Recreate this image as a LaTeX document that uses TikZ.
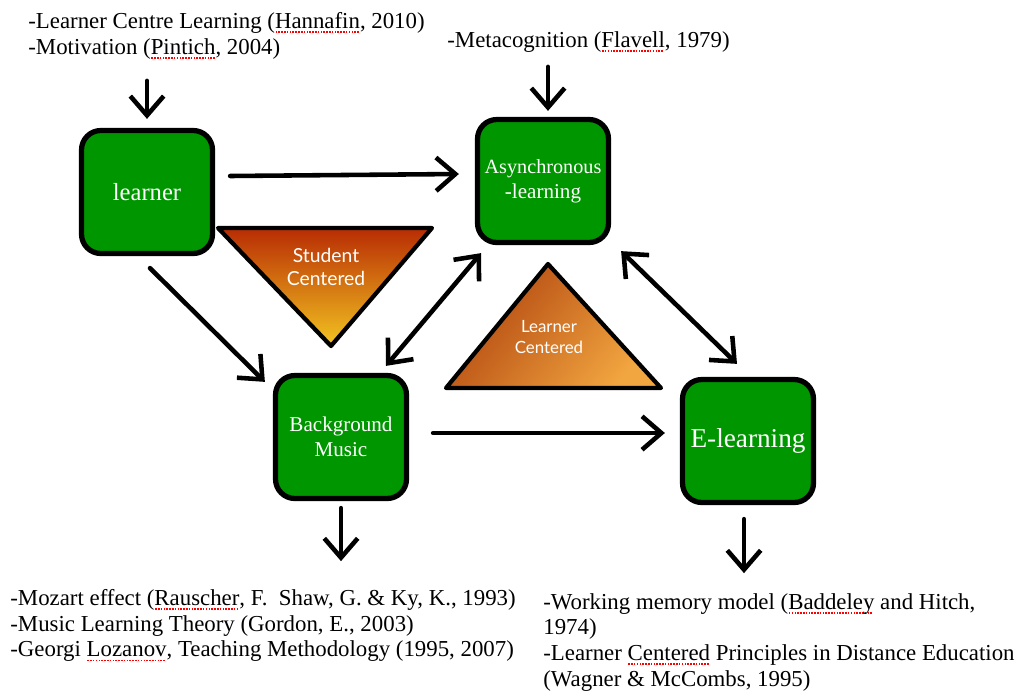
\documentclass[tikz,border=0pt]{standalone}
\usepackage{fontspec}
\setmainfont{Liberation Serif}
\newfontfamily\trifont{Lato}
\usetikzlibrary{arrows.meta,calc}
\definecolor{boxgreen}{RGB}{0,150,0}
\definecolor{scTop}{RGB}{184,44,4}
\definecolor{scMid}{RGB}{218,104,16}
\definecolor{scBot}{RGB}{242,196,32}
\definecolor{lcA}{RGB}{176,68,14}
\definecolor{lcB}{RGB}{242,166,64}
\newcommand\sq[1]{\setbox0=\hbox{#1}\rlap{\raisebox{-2.6pt}[0pt][0pt]{\color{red}\leaders\hbox to 1.6pt{\hss\rule{0.9pt}{0.9pt}\hss}\hskip\wd0}}\box0\relax}
\begin{document}
\begin{tikzpicture}[x=0.02cm,y=-0.02cm,
  box/.style={draw=black,line width=3pt,fill=boxgreen,rounded corners=11pt,
    text=white,align=center,minimum width=2.62cm,minimum height=2.46cm,inner sep=2pt,
    font=\fontsize{12}{14}\selectfont},
  tip/.style={},
  arr/.style={line width=2.6pt,line cap=round,-{Straight Barb[length=11pt,width=19pt,line width=2.6pt]}},
  darr/.style={line width=2.6pt,line cap=round,{Straight Barb[length=11pt,width=19pt,line width=2.6pt]}-{Straight Barb[length=11pt,width=19pt,line width=2.6pt]}},
  ref/.style={anchor=north west,inner sep=0pt,align=left,font=\fontsize{13}{14.6}\selectfont},
  tri/.style={draw=black,line width=2.4pt,line join=round},
  tritext/.style={text=white,align=center,inner sep=0pt}]
\useasboundingbox (0,0) rectangle (1018,690);

% boxes
\node[box] (learner) at (147,192) {\fontsize{14}{16}\selectfont learner};
\node[box] (async) at (543,181) {\fontsize{11.5}{14}\selectfont Asynchronous\\-learning};
\node[box] (bgm) at (341,437) {Background\\Music};
\node[box] (elearn) at (748,441) {\fontsize{15.5}{17}\selectfont E-learning};

% triangles
\coordinate (s1) at (218,228);
\coordinate (s2) at (432,228);
\coordinate (s3) at (331,346);
\shade[top color=scTop,middle color=scMid,bottom color=scBot] (s1) -- (s2) -- (s3) -- cycle;
\draw[tri] (s1) -- (s2) -- (s3) -- cycle;
\node[tritext,font=\trifont\fontsize{11}{13.5}\selectfont] (sc) at (326,267) {Student\\Centered};

\coordinate (l1) at (548,264);
\coordinate (l2) at (446,388);
\coordinate (l3) at (661,388);
\shade[left color=lcA,right color=lcB,shading angle=50] (l1) -- (l2) -- (l3) -- cycle;
\draw[tri] (l1) -- (l2) -- (l3) -- cycle;
\node[tritext,font=\trifont\fontsize{9.6}{12}\selectfont] (lc) at (549,337) {Learner\\Centered};

% reference texts
\node[ref] (r1) at (28,12) {-Learner Centre Learning (\sq{Hannafin}, 2010)\\-Motivation (\sq{Pintich}, 2004)};
\node[ref] (r2) at (447,31) {-Metacognition (\sq{Flavell}, 1979)};
\node[ref] (r3) at (10,589) {-Mozart effect (\sq{Rauscher}, F.\ \ Shaw, G. \& Ky, K., 1993)\\-Music Learning Theory (Gordon, E., 2003)\\-Georgi \sq{Lozanov}, Teaching Methodology (1995, 2007)};
\node[ref] (r4) at (543,593) {-Working memory model (\sq{Baddeley} and Hitch,\\1974)\\-Learner \sq{Centered} Principles in Distance Education\\(Wagner \& McCombs, 1995)};

% connectors
\draw[arr] ($(learner.north)+(0,-47)$) -- ($(learner.north)+(0,-9)$);
\draw[arr] ($(async.north)+(5,-50)$) -- ($(async.north)+(5,-6)$);
\draw[arr] ($(learner.east)+(15,-16)$) -- ($(async.west)+(-16,-7)$);
\draw[arr] ($(learner.south)+(3,12)$) -- ($(bgm.north west)+(-8,9)$);
\draw[darr] ($(bgm.north)+(45,-7)$) -- ($(async.south)+(-62,8)$);
\draw[darr] ($(async.south east)+(10,6)$) -- ($(elearn.north)+(-11,-13)$);
\draw[arr] ($(bgm.east)+(24,-4)$) -- ($(elearn.west)+(-15,-8)$);
\draw[arr] ($(bgm.south)+(0,7)$) -- ($(bgm.south)+(0,60)$);
\draw[arr] ($(elearn.south)+(-4,14)$) -- ($(elearn.south)+(-4,68)$);
\end{tikzpicture}
\end{document}
